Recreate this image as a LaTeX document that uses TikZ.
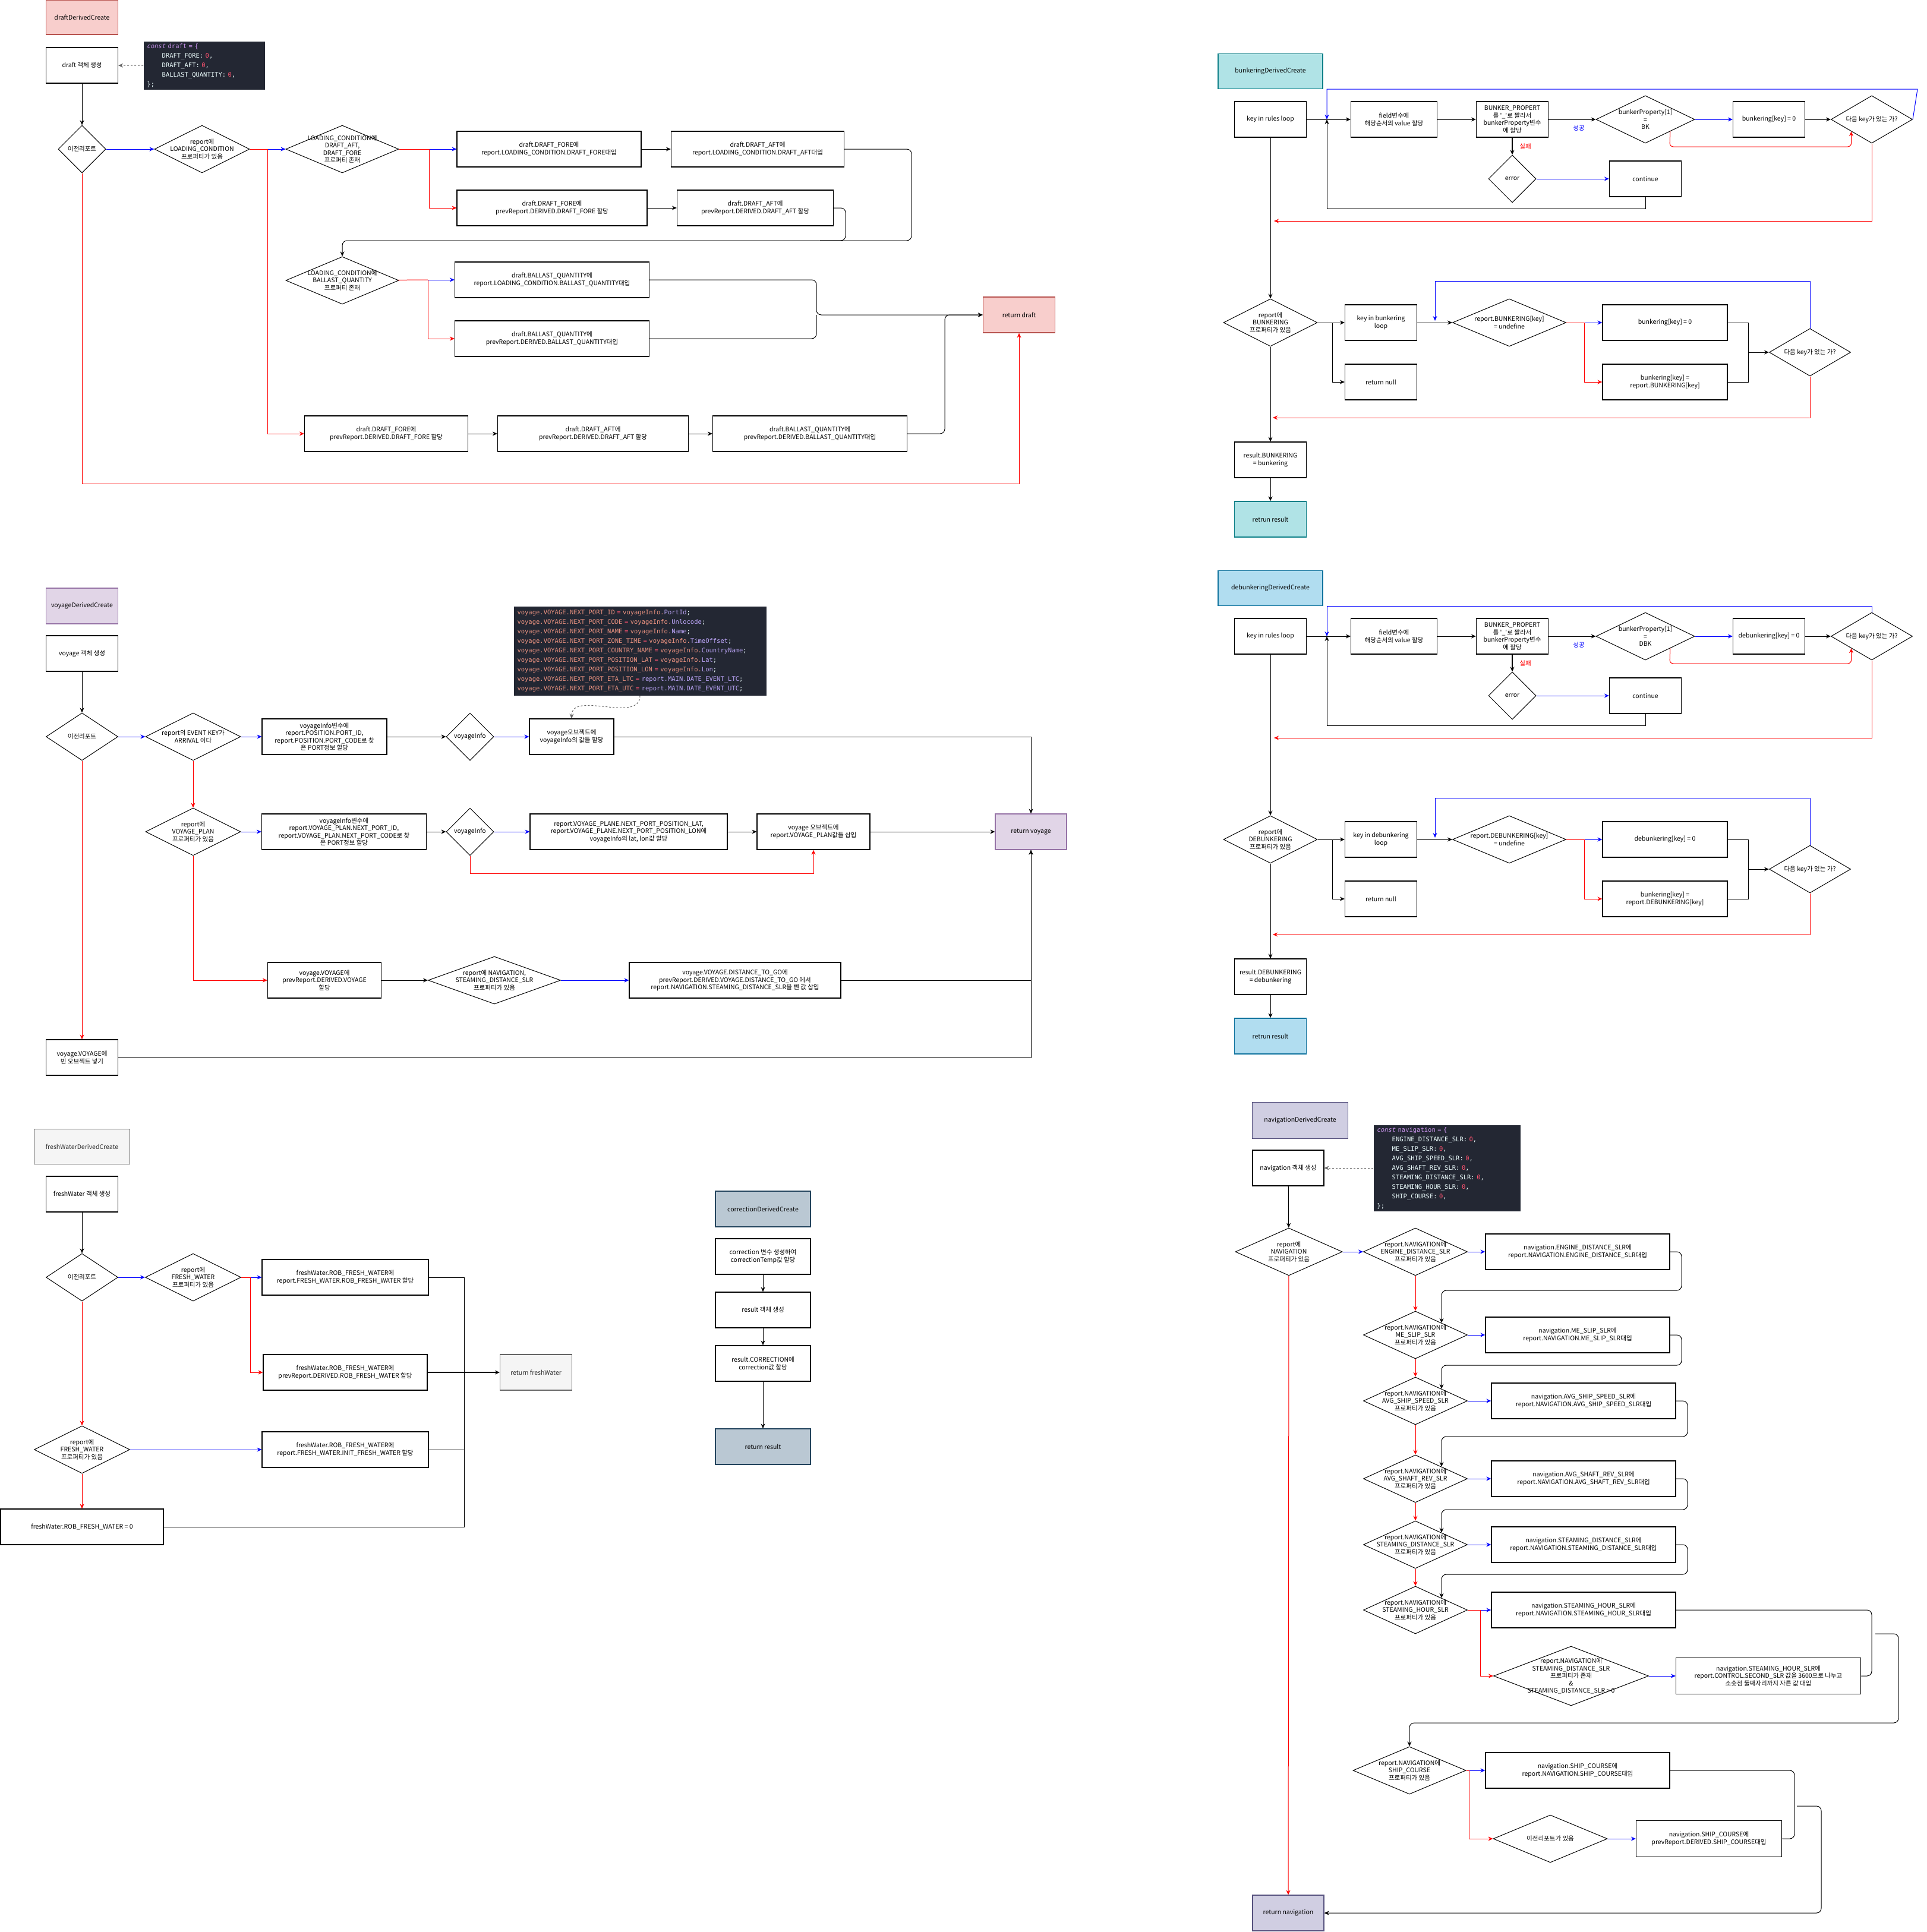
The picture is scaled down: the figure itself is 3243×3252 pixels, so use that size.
\documentclass[tikz,border=0pt]{standalone}
\usepackage{fontspec}
\setmainfont{Noto Sans CJK KR}
\newfontfamily\codefont{DejaVu Sans Mono}
\usepackage{tikz}
\usetikzlibrary{arrows.meta}
\usetikzlibrary{shapes.geometric}

\definecolor{draftfill}{HTML}{F8CECC}
\definecolor{draftline}{HTML}{B85450}
\definecolor{bunkfill}{HTML}{B0E3E6}
\definecolor{bunkline}{HTML}{0E8088}
\definecolor{debunkfill}{HTML}{B1DDF0}
\definecolor{debunkline}{HTML}{10739E}
\definecolor{voyfill}{HTML}{E1D5E7}
\definecolor{voyline}{HTML}{9673A6}
\definecolor{fwfill}{HTML}{F5F5F5}
\definecolor{fwline}{HTML}{666666}
\definecolor{corrfill}{HTML}{BAC8D3}
\definecolor{corrline}{HTML}{23445D}
\definecolor{navfill}{HTML}{D0CEE2}
\definecolor{navline}{HTML}{56517E}
\definecolor{codebg}{HTML}{232733}
\definecolor{ckw}{HTML}{C792EA}
\definecolor{ckey}{HTML}{EEFFFF}
\definecolor{cnum}{HTML}{FF5370}
\definecolor{csal}{HTML}{E8917F}
\definecolor{cfld}{HTML}{B9A3F5}

\begin{document}
\begin{tikzpicture}[x=1pt,y=-1pt,
    font=\fontsize{10.5}{12.5}\selectfont,
    >={Stealth[length=8pt,width=7pt]},
    line width=1pt,
    box/.style={draw,rectangle,line width=1.2pt,align=center,inner sep=1pt,minimum height=60},
    dia/.style 2 args={draw,diamond,line width=1pt,inner sep=0pt,minimum width=#1,minimum height=#2},
    txt/.style={align=center,inner sep=0pt,anchor=center},
    code/.style={fill=codebg,align=left,anchor=north west,inner xsep=6pt,inner ysep=2pt,text=ckey,
                 font=\codefont\fontsize{10.5}{16}\selectfont},
    yes/.style={->,blue},
    no/.style={->,red},
    go/.style={->,black}]
\useasboundingbox (0,0) rectangle (3243,3252);

% draftDerivedCreate
\begin{scope}
\node[box,fill=draftfill,draw=draftline,minimum width=121,minimum height=58] (101) at (138,29) {draftDerivedCreate};
\node[box,minimum width=121] (102) at (138,110) {draft 객체 생성};
\node[code,minimum width=204,minimum height=80,text width=192] (103) at (241,70)
  {{\color{ckw}\textit{const} draft = \{}\\
   \hspace*{2.4em}DRAFT\_FORE: {\color{cnum}0},\\
   \hspace*{2.4em}DRAFT\_AFT: {\color{cnum}0},\\
   \hspace*{2.4em}BALLAST\_QUANTITY: {\color{cnum}0},\\
   \};};
\node[dia={80}{80},label={[txt]center:이전리포트}] (104) at (138,251) {};
\node[dia={160}{80},label={[txt]center:{report에\\LOADING\_CONDITION\\프로퍼티가 있음}}] (105) at (340,251) {};
\node[dia={190}{80},label={[txt]center:{LOADING\_CONDITION에\\DRAFT\_AFT,\\DRAFT\_FORE\\프로퍼티 존재}}] (106) at (576,251) {};
\node[box,minimum width=310] (107) at (924,251) {draft.DRAFT\_FORE에\\report.LOADING\_CONDITION.DRAFT\_FORE대입};
\node[box,minimum width=291] (108) at (1275,251) {draft.DRAFT\_AFT에\\report.LOADING\_CONDITION.DRAFT\_AFT대입};
\node[box,minimum width=320] (109) at (929,350) {draft.DRAFT\_FORE에\\prevReport.DERIVED.DRAFT\_FORE 할당};
\node[box,minimum width=263] (110) at (1271,350) {draft.DRAFT\_AFT에\\prevReport.DERIVED.DRAFT\_AFT 할당};
\node[dia={190}{80},label={[txt]center:{LOADING\_CONDITION에\\BALLAST\_QUANTITY\\프로퍼티 존재}}] (111) at (576,472) {};
\node[box,minimum width=327] (112) at (929,471) {draft.BALLAST\_QUANTITY에\\report.LOADING\_CONDITION.BALLAST\_QUANTITY대입};
\node[box,minimum width=327] (113) at (929,570) {draft.BALLAST\_QUANTITY에\\prevReport.DERIVED.BALLAST\_QUANTITY대입};
\node[box,fill=draftfill,draw=draftline,minimum width=121] (114) at (1715,530) {return draft};
\node[box,minimum width=275] (115) at (650,730) {draft.DRAFT\_FORE에\\prevReport.DERIVED.DRAFT\_FORE 할당};
\node[box,minimum width=321] (116) at (998,730) {draft.DRAFT\_AFT에\\prevReport.DERIVED.DRAFT\_AFT 할당};
\node[box,minimum width=327] (117) at (1363,730) {draft.BALLAST\_QUANTITY에\\prevReport.DERIVED.BALLAST\_QUANTITY대입};
\coordinate (118) at (450,251);
\coordinate (119) at (722,251);
\coordinate (120) at (720,471);
\coordinate (121) at (1380,405);
\coordinate (122) at (1374,530);

\draw[->,dashed,fwline] (103) -- (102);
\draw[go] (102) -- (104);
\draw[yes] (104) -- (105);
\draw[red] (105) -- (118);
\draw[yes] (118) -- (106);
\draw[no] (118) |- (115);
\draw[red] (106) -- (119);
\draw[yes] (119) -- (107);
\draw[no] (119) |- (109);
\draw[go] (107) -- (108);
\draw[go] (109) -- (110);
\draw[go,rounded corners=8pt] (108.east) -- (1534,251) -- (1534,405) -| (111.north);
\draw[rounded corners=8pt] (110.east) -- (1423,350) -- (1423,405) -- (121);
\draw[red] (111) -- (120);
\draw[yes] (120) -- (112);
\draw[no] (120) |- (113);
\draw[go,rounded corners=8pt] (112.east) -- (1374,471) -- (122) -- (114);
\draw[rounded corners=8pt] (113.east) -- (1374,570) -- (122);
\draw[go] (115) -- (116);
\draw[go] (116) -- (117);
\draw[go,rounded corners=8pt] (117.east) -- (1590,730) -- (1590,530) -- (114);
\draw[no] (104.south) -- (138,814) -| (114.south);
\end{scope}

% bunkeringDerivedCreate
\begin{scope}
\node[box,fill=bunkfill,draw=bunkline,minimum width=176,minimum height=59] (201) at (2138,120) {bunkeringDerivedCreate};
\node[box,minimum width=121] (202) at (2138,201) {key in rules loop};
\node[box,minimum width=145] (203) at (2346,201) {field변수에\\해당순서의 value 할당};
\node[box,minimum width=121] (204) at (2545,201) {BUNKER\_PROPERT\\를 \textquotesingle\_\textquotesingle 로 짤라서\\bunkerProperty변수\\에 할당};
\node[dia={166}{80},label={[txt]center:{bunkerProperty[1]\\=\\BK}}] (205) at (2769,201) {};
\node[box,minimum width=121] (206) at (2977,201) {bunkering[key] = 0};
\node[dia={137}{80},label={[txt]center:{다음 key가 있는 가?}}] (207) at (3150,201) {};
\node[dia={80}{80},label={[txt]center:error}] (208) at (2545,301) {};
\node[box,minimum width=121] (209) at (2769,301) {continue};
\node[dia={158}{80},label={[txt]center:{report에\\BUNKERING\\프로퍼티가 있음}}] (210) at (2138,543) {};
\node[box,minimum width=121] (211) at (2324,543) {key in bunkering\\loop};
\node[box,minimum width=121] (212) at (2324,643) {return null};
\node[dia={191}{80},label={[txt]center:{report.BUNKERING[key]\\= undefine}}] (213) at (2540,543) {};
\node[box,minimum width=210] (214) at (2802,543) {bunkering[key] = 0};
\node[box,minimum width=210] (215) at (2802,643) {bunkering[key] =\\report.BUNKERING[key]};
\node[dia={137}{80},label={[txt]center:{다음 key가 있는 가?}}] (216) at (3046,593) {};
\node[box,minimum width=121] (217) at (2138,774) {result.BUNKERING\\= bunkering};
\node[box,fill=bunkfill,draw=bunkline,minimum width=121] (218) at (2138,874) {retrun result};
\coordinate (219) at (2233,201);
\node[text=blue] (220) at (2657,216) {성공};
\node[text=red] (221) at (2567,247) {실패};
\coordinate (222) at (2242,543);
\coordinate (223) at (2666,543);
\coordinate (224) at (2942,593);
\coordinate (225) at (2415,540);
\coordinate (226) at (2144,372);
\coordinate (227) at (2142,703);

\draw[go] (202) -- (203);
\draw[go] (203) -- (204);
\draw[go] (204) -- (205);
\draw[yes] (205) -- (206);
\draw[go] (206) -- (207);
\draw[go,line width=1.5pt] (204) -- (208);
\draw[yes] (208) -- (209);
\draw[go] (209.south) -- (2769,351) -- (2233,351) -- (219);
\draw[no,rounded corners=6pt] (205.south east) -- (2810,247) -| (207.south west);
\draw[yes] (207.east) -- (3227,150) -- (2233,150) -- (219);
\draw[no] (207.south) |- (226);
\draw[go] (202) -- (210);
\draw[go] (210) -- (211);
\draw[go] (222) |- (212);
\draw[go] (211) -- (213);
\draw[red] (213) -- (223);
\draw[yes] (223) -- (214);
\draw[no] (223) |- (215);
\draw (214.east) -- (2942,543) -- (2942,643) -- (215.east);
\draw[go] (224) -- (216);
\draw[yes] (216.north) -- (3046,473) -- (2415,473) -- (225);
\draw[no] (216.south) |- (227);
\draw[go] (210) -- (217);
\draw[go] (217) -- (218);
\end{scope}

% debunkeringDerivedCreate
\begin{scope}
\node[box,fill=debunkfill,draw=debunkline,minimum width=176,minimum height=59] (301) at (2138,990) {debunkeringDerivedCreate};
\node[box,minimum width=121] (302) at (2138,1071) {key in rules loop};
\node[box,minimum width=145] (303) at (2346,1071) {field변수에\\해당순서의 value 할당};
\node[box,minimum width=121] (304) at (2545,1071) {BUNKER\_PROPERT\\를 \textquotesingle\_\textquotesingle 로 짤라서\\bunkerProperty변수\\에 할당};
\node[dia={166}{80},label={[txt]center:{bunkerProperty[1]\\=\\DBK}}] (305) at (2769,1071) {};
\node[box,minimum width=121] (306) at (2977,1071) {debunkering[key] = 0};
\node[dia={137}{80},label={[txt]center:{다음 key가 있는 가?}}] (307) at (3150,1071) {};
\node[dia={80}{80},label={[txt]center:error}] (308) at (2545,1171) {};
\node[box,minimum width=121] (309) at (2769,1171) {continue};
\node[dia={158}{80},label={[txt]center:{report에\\DEBUNKERING\\프로퍼티가 있음}}] (310) at (2138,1413) {};
\node[box,minimum width=121] (311) at (2324,1413) {key in debunkering\\loop};
\node[box,minimum width=121] (312) at (2324,1513) {return null};
\node[dia={191}{80},label={[txt]center:{report.DEBUNKERING[key]\\= undefine}}] (313) at (2540,1413) {};
\node[box,minimum width=210] (314) at (2802,1413) {debunkering[key] = 0};
\node[box,minimum width=210] (315) at (2802,1513) {bunkering[key] =\\report.DEBUNKERING[key]};
\node[dia={137}{80},label={[txt]center:{다음 key가 있는 가?}}] (316) at (3046,1463) {};
\node[box,minimum width=121] (317) at (2138,1644) {result.DEBUNKERING\\= debunkering};
\node[box,fill=debunkfill,draw=debunkline,minimum width=121] (318) at (2138,1744) {retrun result};
\coordinate (319) at (2233,1071);
\node[text=blue] (320) at (2657,1086) {성공};
\node[text=red] (321) at (2567,1117) {실패};
\coordinate (322) at (2242,1413);
\coordinate (323) at (2666,1413);
\coordinate (324) at (2942,1463);
\coordinate (325) at (2415,1410);
\coordinate (326) at (2144,1242);
\coordinate (327) at (2142,1573);

\draw[go] (302) -- (303);
\draw[go] (303) -- (304);
\draw[go] (304) -- (305);
\draw[yes] (305) -- (306);
\draw[go] (306) -- (307);
\draw[go,line width=1.5pt] (304) -- (308);
\draw[yes] (308) -- (309);
\draw[go] (309.south) -- (2769,1221) -- (2233,1221) -- (319);
\draw[no,rounded corners=6pt] (305.south east) -- (2810,1117) -| (307.south west);
\draw[yes] (307.north) -- (3150,1020) -- (2233,1020) -- (319);
\draw[no] (307.south) |- (326);
\draw[go] (302) -- (310);
\draw[go] (310) -- (311);
\draw[go] (322) |- (312);
\draw[go] (311) -- (313);
\draw[red] (313) -- (323);
\draw[yes] (323) -- (314);
\draw[no] (323) |- (315);
\draw (314.east) -- (2942,1413) -- (2942,1513) -- (315.east);
\draw[go] (324) -- (316);
\draw[yes] (316.north) -- (3046,1343) -- (2415,1343) -- (325);
\draw[no] (316.south) |- (327);
\draw[go] (310) -- (317);
\draw[go] (317) -- (318);
\end{scope}

% voyageDerivedCreate
\begin{scope}
\node[box,fill=voyfill,draw=voyline,minimum width=121] (401) at (138,1020) {voyageDerivedCreate};
\node[box,minimum width=121] (402) at (138,1100) {voyage 객체 생성};
\node[code,minimum width=425,minimum height=150,text width=413] (403) at (864,1020)
  {{\color{csal}voyage.VOYAGE.NEXT\_PORT\_ID} {\color{cnum}=} {\color{csal}voyageInfo.}{\color{cfld}PortId};\\
   {\color{csal}voyage.VOYAGE.NEXT\_PORT\_CODE} {\color{cnum}=} {\color{csal}voyageInfo.}{\color{cfld}Unlocode};\\
   {\color{csal}voyage.VOYAGE.NEXT\_PORT\_NAME} {\color{cnum}=} {\color{csal}voyageInfo.}{\color{cfld}Name};\\
   {\color{csal}voyage.VOYAGE.NEXT\_PORT\_ZONE\_TIME} {\color{cnum}=} {\color{csal}voyageInfo.}{\color{cfld}TimeOffset};\\
   {\color{csal}voyage.VOYAGE.NEXT\_PORT\_COUNTRY\_NAME} {\color{cnum}=} {\color{csal}voyageInfo.}{\color{cfld}CountryName};\\
   {\color{csal}voyage.VOYAGE.NEXT\_PORT\_POSITION\_LAT} {\color{cnum}=} {\color{csal}voyageInfo.}{\color{cfld}Lat};\\
   {\color{csal}voyage.VOYAGE.NEXT\_PORT\_POSITION\_LON} {\color{cnum}=} {\color{csal}voyageInfo.}{\color{cfld}Lon};\\
   {\color{csal}voyage.VOYAGE.NEXT\_PORT\_ETA\_LTC} {\color{cnum}=} {\color{cfld}report.MAIN.DATE\_EVENT\_LTC};\\
   {\color{csal}voyage.VOYAGE.NEXT\_PORT\_ETA\_UTC} {\color{cnum}=} {\color{cfld}report.MAIN.DATE\_EVENT\_UTC};};
\node[dia={121}{80},label={[txt]center:이전리포트}] (404) at (138,1240) {};
\node[dia={160}{80},label={[txt]center:{report의 EVENT KEY가\\ARRIVAL 이다}}] (405) at (325,1240) {};
\node[box,minimum width=210] (406) at (546,1240) {voyageInfo변수에\\report.POSITION.PORT\_ID,\\report.POSITION.PORT\_CODE로 찾\\은 PORT정보 할당};
\node[dia={80}{80},label={[txt]center:voyageInfo}] (407) at (791,1240) {};
\node[box,minimum width=142] (408) at (962,1240) {voyage오브젝트에\\voyageInfo의 값들 할당};
\node[box,fill=voyfill,draw=voyline,minimum width=120] (409) at (1735,1400) {return voyage};
\node[dia={160}{80},label={[txt]center:{report에\\VOYAGE\_PLAN\\프로퍼티가 있음}}] (410) at (325,1400) {};
\node[box,minimum width=277] (411) at (579,1400) {voyageInfo변수에\\report.VOYAGE\_PLAN.NEXT\_PORT\_ID,\\report.VOYAGE\_PLAN.NEXT\_PORT\_CODE로 찾\\은 PORT정보 할당};
\node[dia={80}{80},label={[txt]center:voyageInfo}] (412) at (791,1400) {};
\node[box,minimum width=332] (413) at (1058,1400) {report.VOYAGE\_PLANE.NEXT\_PORT\_POSITION\_LAT,\\report.VOYAGE\_PLANE.NEXT\_PORT\_POSITION\_LON에\\voyageInfo의 lat, lon값 할당};
\node[box,minimum width=190] (414) at (1369,1400) {voyage 오브젝트에\\report.VOYAGE\_PLAN값들 삽입};
\node[box,minimum width=191] (415) at (546,1650) {voyage.VOYAGE에\\prevReport.DERIVED.VOYAGE\\할당};
\node[dia={223}{80},label={[txt]center:{report에 NAVIGATION,\\STEAMING\_DISTANCE\_SLR\\프로퍼티가 있음}}] (416) at (832,1650) {};
\node[box,minimum width=356] (417) at (1237,1650) {voyage.VOYAGE.DISTANCE\_TO\_GO에\\prevReport.DERIVED.VOYAGE.DISTANCE\_TO\_GO 에서\\report.NAVIGATION.STEAMING\_DISTANCE\_SLR을 뺀 값 삽입};
\node[box,minimum width=121] (418) at (138,1780) {voyage.VOYAGE에\\빈 오브젝트 넣기};

\draw[go] (402) -- (404);
\draw[yes] (404) -- (405);
\draw[yes] (405) -- (406);
\draw[go] (406) -- (407);
\draw[yes] (407) -- (408);
\draw[->,dashed,fwline] (403.south) to[out=-90,in=90] (408.north);
\draw[go] (408) -| (409);
\draw[no] (405) -- (410);
\draw[yes] (410) -- (411);
\draw[go] (411) -- (412);
\draw[yes] (412) -- (413);
\draw[go] (413) -- (414);
\draw[go] (414) -- (409);
\draw[no] (412.south) -- (791,1470) -| (414.south);
\draw[no] (410.south) |- (415);
\draw[go] (415) -- (416);
\draw[yes] (416) -- (417);
\draw[go] (417) -| (409);
\draw[no] (404) -- (418);
\draw[go] (418) -| (409);
\end{scope}

% freshWaterDerivedCreate
\begin{scope}
\node[box,fill=fwfill,draw=fwline,text=black!80,minimum width=161,minimum height=59] (501) at (138,1930) {freshWaterDerivedCreate};
\node[box,minimum width=121] (502) at (138,2010) {freshWater 객체 생성};
\node[dia={121}{80},label={[txt]center:이전리포트}] (503) at (138,2150) {};
\node[dia={161}{80},label={[txt]center:{report에\\FRESH\_WATER\\프로퍼티가 있음}}] (504) at (325,2150) {};
\node[box,minimum width=280] (505) at (581,2150) {freshWater.ROB\_FRESH\_WATER에\\report.FRESH\_WATER.ROB\_FRESH\_WATER 할당};
\node[box,minimum width=276] (506) at (581,2310) {freshWater.ROB\_FRESH\_WATER에\\prevReport.DERIVED.ROB\_FRESH\_WATER 할당};
\node[box,fill=fwfill,draw=fwline,text=black!80,minimum width=121] (507) at (902,2310) {return freshWater};
\node[dia={161}{80},label={[txt]center:{report에\\FRESH\_WATER\\프로퍼티가 있음}}] (508) at (138,2440) {};
\node[box,minimum width=280] (509) at (581,2440) {freshWater.ROB\_FRESH\_WATER에\\report.FRESH\_WATER.INIT\_FRESH\_WATER 할당};
\node[box,minimum width=274] (510) at (138,2570) {freshWater.ROB\_FRESH\_WATER = 0};
\coordinate (511) at (421,2150);
\coordinate (512) at (781,2440);

\draw[go] (502) -- (503);
\draw[yes] (503) -- (504);
\draw[red] (504) -- (511);
\draw[yes] (511) -- (505);
\draw[no] (511) |- (506);
\draw (505) -| (781,2570) -- (510);
\draw (509) -- (512);
\draw[go,line width=1.5pt] (506) -- (507);
\draw[no] (503) -- (508);
\draw[yes] (508) -- (509);
\draw[no] (508) -- (510);
\end{scope}

% correctionDerivedCreate
\begin{scope}
\node[box,fill=corrfill,draw=corrline,minimum width=160] (601) at (1284,2035) {correctionDerivedCreate};
\node[box,minimum width=160] (602) at (1284,2115) {correction 변수 생성하여\\correctionTemp값 할당};
\node[box,minimum width=160] (603) at (1284,2205) {result 객체 생성};
\node[box,minimum width=160] (604) at (1284,2295) {result.CORRECTION에\\correction값 할당};
\node[box,fill=corrfill,draw=corrline,minimum width=160] (605) at (1284,2435) {return result};
\draw[go] (602) -- (603);
\draw[go] (603) -- (604);
\draw[go] (604) -- (605);
\end{scope}

% navigationDerivedCreate
\begin{scope}
\node[box,fill=navfill,draw=navline,minimum width=161,minimum height=61] (701) at (2188,1886) {navigationDerivedCreate};
\node[box,minimum width=120] (702) at (2168,1966) {navigation 객체 생성};
\node[code,minimum width=247,minimum height=145,text width=235] (703) at (2311,1893)
  {{\color{ckw}\textit{const} navigation = \{}\\
   \hspace*{2.4em}ENGINE\_DISTANCE\_SLR: {\color{cnum}0},\\
   \hspace*{2.4em}ME\_SLIP\_SLR: {\color{cnum}0},\\
   \hspace*{2.4em}AVG\_SHIP\_SPEED\_SLR: {\color{cnum}0},\\
   \hspace*{2.4em}AVG\_SHAFT\_REV\_SLR: {\color{cnum}0},\\
   \hspace*{2.4em}STEAMING\_DISTANCE\_SLR: {\color{cnum}0},\\
   \hspace*{2.4em}STEAMING\_HOUR\_SLR: {\color{cnum}0},\\
   \hspace*{2.4em}SHIP\_COURSE: {\color{cnum}0},\\
   \};};
\node[dia={180}{80},label={[txt]center:{report에\\NAVIGATION\\프로퍼티가 있음}}] (704) at (2169,2107) {};
\node[dia={175}{80},label={[txt]center:{report.NAVIGATION에\\ENGINE\_DISTANCE\_SLR\\프로퍼티가 있음}}] (705) at (2382,2107) {};
\node[box,minimum width=310] (706) at (2655,2107) {navigation.ENGINE\_DISTANCE\_SLR에\\report.NAVIGATION.ENGINE\_DISTANCE\_SLR대입};
\node[dia={175}{80},label={[txt]center:{report.NAVIGATION에\\ME\_SLIP\_SLR\\프로퍼티가 있음}}] (707) at (2382,2247) {};
\node[box,minimum width=310] (708) at (2655,2247) {navigation.ME\_SLIP\_SLR에\\report.NAVIGATION.ME\_SLIP\_SLR대입};
\node[dia={175}{80},label={[txt]center:{report.NAVIGATION에\\AVG\_SHIP\_SPEED\_SLR\\프로퍼티가 있음}}] (709) at (2382,2358) {};
\node[box,minimum width=310] (710) at (2665,2358) {navigation.AVG\_SHIP\_SPEED\_SLR에\\report.NAVIGATION.AVG\_SHIP\_SPEED\_SLR대입};
\node[dia={175}{80},label={[txt]center:{report.NAVIGATION에\\AVG\_SHAFT\_REV\_SLR\\프로퍼티가 있음}}] (711) at (2382,2489) {};
\node[box,minimum width=310] (712) at (2665,2489) {navigation.AVG\_SHAFT\_REV\_SLR에\\report.NAVIGATION.AVG\_SHAFT\_REV\_SLR대입};
\node[dia={175}{80},label={[txt]center:{report.NAVIGATION에\\STEAMING\_DISTANCE\_SLR\\프로퍼티가 있음}}] (713) at (2382,2600) {};
\node[box,minimum width=310] (714) at (2665,2600) {navigation.STEAMING\_DISTANCE\_SLR에\\report.NAVIGATION.STEAMING\_DISTANCE\_SLR대입};
\node[dia={175}{80},label={[txt]center:{report.NAVIGATION에\\STEAMING\_HOUR\_SLR\\프로퍼티가 있음}}] (715) at (2382,2710) {};
\node[box,minimum width=310] (716) at (2665,2710) {navigation.STEAMING\_HOUR\_SLR에\\report.NAVIGATION.STEAMING\_HOUR\_SLR대입};
\node[dia={261}{100},label={[txt]center:{report.NAVIGATION에\\STEAMING\_DISTANCE\_SLR\\프로퍼티가 존재\\\&\\STEAMING\_DISTANCE\_SLR > 0}}] (717) at (2644,2821) {};
\node[box,minimum width=311,minimum height=61] (718) at (2976,2821) {navigation.STEAMING\_HOUR\_SLR에\\report.CONTROL.SECOND\_SLR 값을 3600으로 나누고\\소숫점 둘째자리까지 자른 값 대입};
\node[dia={190}{80},label={[txt]center:{report.NAVIGATION에\\SHIP\_COURSE\\프로퍼티가 있음}}] (719) at (2372,2980) {};
\node[box,minimum width=310] (720) at (2655,2980) {navigation.SHIP\_COURSE에\\report.NAVIGATION.SHIP\_COURSE대입};
\node[dia={192}{80},label={[txt]center:이전리포트가 있음}] (721) at (2609,3095) {};
\node[box,minimum width=245,minimum height=61] (722) at (2876,3095) {navigation.SHIP\_COURSE에\\prevReport.DERIVED.SHIP\_COURSE대입};
\node[box,fill=navfill,draw=navline,minimum width=120] (723) at (2168,3220) {return navigation};
\coordinate (724) at (3156,2750);
\coordinate (725) at (3024,3040);
\coordinate (726) at (2491,2710);
\coordinate (727) at (2472,2980);

\draw[->,dashed,fwline] (703) -- (702);
\draw[go] (702) -- (704);
\draw[yes] (704) -- (705);
\draw[no] (704) -- (723);
\draw[yes] (705) -- (706);
\draw[yes] (707) -- (708);
\draw[yes] (709) -- (710);
\draw[yes] (711) -- (712);
\draw[yes] (713) -- (714);
\draw[no] (705) -- (707);
\draw[no] (707) -- (709);
\draw[no] (709) -- (711);
\draw[no] (711) -- (713);
\draw[no] (713) -- (715);
\draw[go,rounded corners=8pt] (706.east) -- (2830,2107) -- (2830,2172) -| (707.north east);
\draw[go,rounded corners=8pt] (708.east) -- (2830,2247) -- (2830,2298) -| (709.north east);
\draw[go,rounded corners=8pt] (710.east) -- (2840,2358) -- (2840,2418) -| (711.north east);
\draw[go,rounded corners=8pt] (712.east) -- (2840,2489) -- (2840,2541) -| (713.north east);
\draw[go,rounded corners=8pt] (714.east) -- (2840,2600) -- (2840,2650) -| (715.north east);
\draw[red] (715) -- (726);
\draw[yes] (726) -- (716);
\draw[no] (726) |- (717);
\draw[yes] (717) -- (718);
\draw[rounded corners=8pt] (716.east) -| (3150,2821) -- (718.east);
\draw[go,rounded corners=8pt] (724) -- (3195,2750) -- (3195,2900) -| (719.north);
\draw[red] (719) -- (727);
\draw[yes] (727) -- (720);
\draw[no] (727) |- (721);
\draw[yes] (721) -- (722);
\draw[rounded corners=8pt] (720.east) -| (3020,3095) -- (722.east);
\draw[go,rounded corners=8pt] (725) -- (3065,3040) |- (723.east);
\end{scope}
\end{tikzpicture}
\end{document}
